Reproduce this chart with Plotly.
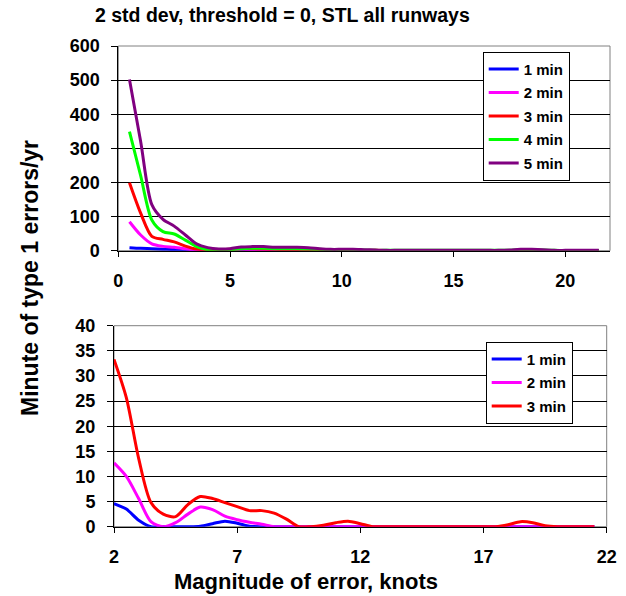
import plotly.graph_objects as go

# ---------------- data ----------------
knots = [0.5, 1, 1.5, 2, 2.5, 3, 3.5, 4, 4.5, 5, 5.5, 6, 6.5, 7, 7.5, 8, 8.5, 9, 9.5, 10,
         10.5, 11, 11.5, 12, 12.5, 13, 13.5, 14, 14.5, 15, 15.5, 16, 16.5, 17, 17.5, 18,
         18.5, 19, 19.5, 20, 20.5, 21, 21.5]

min1 = [9, 7, 6, 4.6, 3.5, 1.3, 0, 0, 0, 0, 0.1, 0.6, 1.1, 0.7, 0.1, 0, 0, 0, 0, 0,
        0, 0, 0, 0, 0, 0, 0, 0, 0, 0, 0, 0, 0, 0, 0, 0,
        0, 0, 0, 0, 0, 0, 0]
min2 = [85, 46, 20, 12.7, 10.0, 5.6, 1.0, 0, 0.8, 2.5, 3.9, 3.4, 2.1, 1.4, 0.9, 0.5, 0, 0, 0, 0,
        0, 0, 0, 0, 0, 0, 0, 0, 0, 0, 0, 0, 0, 0, 0, 0,
        0, 0, 0, 0, 0, 0, 0]
min3 = [199, 110, 42, 33.3, 25.7, 13.6, 4.8, 2.5, 2.0, 4.4, 6.0, 5.6, 4.8, 4.0, 3.2, 3.2, 2.7, 1.5, 0, 0,
        0.3, 0.8, 1.1, 0.6, 0, 0, 0, 0, 0, 0, 0, 0, 0, 0, 0, 0.4,
        1.0, 0.8, 0.2, 0, 0, 0, 0]
min4 = [349, 220, 90, 56, 49, 31, 12, 3, 2, 3, 6, 7, 7, 6, 6, 6, 5, 4, 3, 3,
        3, 2, 1, 1, 1, 1, 1, 1, 1, 1, 1, 1, 1, 1, 1.5, 3,
        3, 2, 1, 0.5, 0.5, 0.5, 0.5]
min5 = [502, 320, 135, 92, 72, 46, 20, 9, 5, 6, 11, 12, 12, 10, 10, 10, 9, 6, 4, 4,
        4, 3, 2, 1, 1, 1, 1, 1, 1, 1, 1, 1, 1, 1, 2, 4,
        4, 3, 1, 1, 1, 1, 1]

series_top = [("1 min", min1, "#0000FF"), ("2 min", min2, "#FF00FF"), ("3 min", min3, "#FF0000"),
              ("4 min", min4, "#00FF00"), ("5 min", min5, "#800080")]
series_bottom = series_top[:3]
bottom_start = 2

title_text = "2 std dev, threshold = 0, STL all runways"
ytitle_text = "Minute of type 1 errors/yr"
xtitle_text = "Magnitude of error, knots"

# ---------------- figure ----------------
W, H = 626, 596
FONT = "Liberation Sans, Arial, sans-serif"

def px_x(p):
    return p / W

def px_y(p):
    return 1 - p / H

fig = go.Figure()

for name, vals, col in series_top:
    fig.add_trace(go.Scatter(x=knots, y=vals, name=name, mode="lines",
                             line=dict(color=col, width=3, shape="spline", smoothing=0.8),
                             xaxis="x", yaxis="y", legend="legend", legendgroup="t" + name))

for name, vals, col in series_bottom:
    xs = [k for k in knots if k >= bottom_start]
    ys = [v for k, v in zip(knots, vals) if k >= bottom_start]
    fig.add_trace(go.Scatter(x=xs, y=ys, name=name, mode="lines",
                             line=dict(color=col, width=3, shape="spline", smoothing=0.8),
                             xaxis="x2", yaxis="y2", legend="legend2", legendgroup="b" + name))

tickfont = dict(family=FONT, size=18, color="black", weight="bold")

common_x = dict(showgrid=False, zeroline=False, showline=True, linecolor="black", linewidth=1,
                ticks="outside", ticklen=5, tickcolor="black", tickfont=tickfont,
                ticklabelstandoff=9, automargin=False)
common_y = dict(showgrid=True, gridcolor="black", gridwidth=1, zeroline=False, showline=True,
                linecolor="black", linewidth=1, ticks="outside", ticklen=6, tickcolor="black",
                tickfont=tickfont, ticklabelstandoff=8, automargin=False)

legend_common = dict(xanchor="left", yanchor="top", bgcolor="white", bordercolor="black",
                     borderwidth=1, font=dict(family=FONT, size=15, color="black", weight="bold"),
                     tracegroupgap=1, itemwidth=30)

fig.update_layout(
    width=W, height=H,
    margin=dict(l=0, r=0, t=0, b=0, pad=0, autoexpand=False),
    paper_bgcolor="white", plot_bgcolor="white",
    showlegend=True,
    xaxis=dict(domain=[px_x(118.3), px_x(610)], range=[0, 22], tick0=0, dtick=5,
               anchor="y", **common_x),
    yaxis=dict(domain=[px_y(250.7), px_y(46)], range=[0, 600], dtick=100, anchor="x", **common_y),
    xaxis2=dict(domain=[px_x(114), px_x(606.7)], range=[2, 22], tick0=2, dtick=5,
                anchor="y2", **common_x),
    yaxis2=dict(domain=[px_y(526.7), px_y(325.7)], range=[0, 40], dtick=5, anchor="x2", **common_y),
    legend=dict(x=px_x(482.7), y=px_y(51.7), **legend_common),
    legend2=dict(x=px_x(485.7), y=px_y(341.7), **legend_common),
)

# plot-area borders (gray) on top/right
for xr, yr in (("x domain", "y domain"), ("x2 domain", "y2 domain")):
    fig.add_shape(type="rect", xref=xr, yref=yr, x0=0, x1=1, y0=0, y1=1,
                  line=dict(color="#808080", width=1), layer="below")

fig.add_annotation(text=title_text, x=px_x(282.5), y=px_y(15), xref="paper", yref="paper",
                   showarrow=False, xanchor="center", yanchor="middle",
                   font=dict(family=FONT, size=19.5, color="black", weight="bold"))
fig.add_annotation(text=ytitle_text, x=px_x(30), y=px_y(278), xref="paper", yref="paper",
                   showarrow=False, xanchor="center", yanchor="middle", textangle=-90,
                   font=dict(family=FONT, size=23, color="black", weight="bold"))
fig.add_annotation(text=xtitle_text, x=px_x(306), y=px_y(581), xref="paper", yref="paper",
                   showarrow=False, xanchor="center", yanchor="middle",
                   font=dict(family=FONT, size=22, color="black", weight="bold"))

fig.write_html("out.html", config={"displayModeBar": False},
               post_script="document.body.style.margin='0';document.body.style.overflow='hidden';")
